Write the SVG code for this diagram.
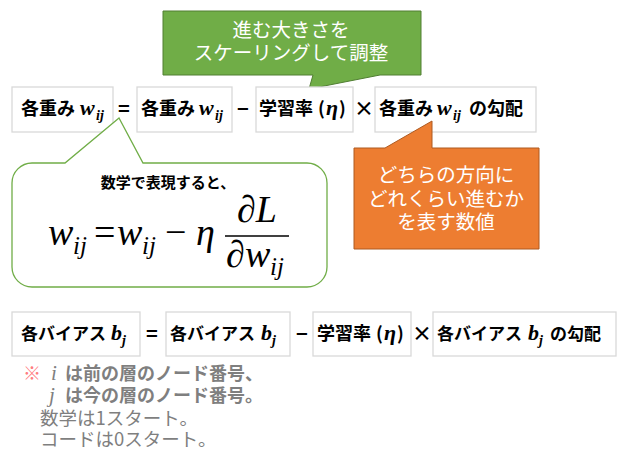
<svg xmlns="http://www.w3.org/2000/svg" width="624" height="460" viewBox="0 0 624 460">
<style>
.box{fill:#fff;stroke:#d9d9d9;stroke-width:1.3}
.b{font-family:"Noto Sans CJK JP","Noto Sans",sans-serif;font-weight:bold;font-size:18px;fill:#000}
.b17{font-size:17px}
.op{font-family:"Noto Sans CJK JP","Noto Sans",sans-serif;font-weight:bold;font-size:20px;fill:#000;text-anchor:middle}
.m{font-family:"Liberation Serif",serif;font-style:italic;font-weight:bold;font-size:22px;fill:#000}
.ms{font-family:"Liberation Serif",serif;font-style:italic;font-weight:bold;font-size:14px;fill:#000}
.w{font-family:"Noto Sans CJK JP","Noto Sans",sans-serif;font-size:19.5px;fill:#fff;text-anchor:middle}
.f{font-family:"Liberation Serif",serif;font-style:italic;font-size:38px;fill:#000}
.fs{font-family:"Liberation Serif",serif;font-style:italic;font-size:25px;fill:#000}
.fu{font-family:"Liberation Serif",serif;font-style:normal;font-size:38px;fill:#000}
.g{font-family:"Noto Sans CJK JP","Noto Sans",sans-serif;font-size:18.5px;font-weight:normal;fill:#7f7f7f}
.gb{font-family:"Noto Sans CJK JP","Noto Sans",sans-serif;font-size:18px;font-weight:bold;fill:#7f7f7f}
.gm{font-family:"Liberation Serif",serif;font-style:italic;font-size:21px;font-weight:normal;fill:#7f7f7f}
.pk{font-weight:normal;fill:#ff7c80}
</style>

<g id="callout-scale">
<path d="M163,11 H421 V75 H380 L309,89 L313,75 H163 Z" fill="#70ad47" stroke="#507e32" stroke-width="1"/>
<text class="w"><tspan x="291" y="37">進む大きさを</tspan><tspan x="291" y="60">スケーリングして調整</tspan></text>
</g>

<g id="w-lhs">
<rect class="box" x="12" y="87" width="101" height="45"/>
<text class="b" x="21" y="115">各重み<tspan class="m" x="80">w</tspan><tspan class="ms" x="96" y="120">ij</tspan></text>
</g>
<text class="op" x="124" y="116">=</text>
<g id="w-rhs">
<rect class="box" x="137" y="87" width="95" height="45"/>
<text class="b" x="141" y="115">各重み<tspan class="m" x="199">w</tspan><tspan class="ms" x="215" y="120">ij</tspan></text>
</g>
<text class="op" x="243" y="116">−</text>
<g id="w-lr">
<rect class="box" x="256" y="87" width="97" height="45"/>
<text class="b" x="259" y="115">学習率<tspan x="318">(</tspan><tspan class="m" x="326">η</tspan><tspan x="339">)</tspan></text>
</g>
<text class="op" x="364" y="116">×</text>
<g id="w-grad">
<rect class="box" x="375" y="87" width="161" height="45"/>
<text class="b" x="379" y="115">各重み<tspan class="m" x="437">w</tspan><tspan class="ms" x="453" y="120">ij</tspan><tspan x="469" y="115">の勾配</tspan></text>
</g>

<g id="callout-math">
<path d="M32,163 H65 L119,118 L143,163 H307 A20,20 0 0 1 327,183 V267 A20,20 0 0 1 307,287 H32 A20,20 0 0 1 12,267 V183 A20,20 0 0 1 32,163 Z" fill="#fff" stroke="#70ad47" stroke-width="1.3"/>
<text class="b" x="168" y="188" text-anchor="middle" style="font-size:15px">数学で表現すると、</text>
<text class="f" y="245"><tspan x="48">w</tspan><tspan class="fs" x="73" y="254">ij</tspan><tspan class="fu" x="94" y="245">=</tspan><tspan x="117">w</tspan><tspan class="fs" x="142" y="254">ij</tspan><tspan class="fu" x="165" y="245">−</tspan><tspan x="196">η</tspan></text>
<line x1="225" y1="236" x2="289" y2="236" stroke="#000" stroke-width="1.6"/>
<text class="f" x="237" y="222">∂L</text>
<text class="f" y="267"><tspan x="226">∂</tspan><tspan x="245">w</tspan><tspan class="fs" x="270" y="275">ij</tspan></text>
</g>

<g id="callout-grad">
<path d="M354,148 H385 L432,121 V148 H539 V249 H354 Z" fill="#ed7d31" stroke="#ae5a21" stroke-width="1"/>
<text class="w"><tspan x="446" y="182">どちらの方向に</tspan><tspan x="446" y="206">どれくらい進むか</tspan><tspan x="446" y="229">を表す数値</tspan></text>
</g>

<g id="b-lhs">
<rect class="box" x="12" y="312" width="128" height="44"/>
<text class="b b17" x="21" y="340">各バイアス<tspan class="m" x="111">b</tspan><tspan class="ms" x="122" y="345">j</tspan></text>
</g>
<text class="op" x="152" y="341">=</text>
<g id="b-rhs">
<rect class="box" x="166" y="312" width="124" height="44"/>
<text class="b b17" x="170" y="340">各バイアス<tspan class="m" x="261">b</tspan><tspan class="ms" x="272" y="345">j</tspan></text>
</g>
<text class="op" x="302" y="341">−</text>
<g id="b-lr">
<rect class="box" x="313" y="312" width="98" height="44"/>
<text class="b" x="317" y="340">学習率<tspan x="376">(</tspan><tspan class="m" x="384">η</tspan><tspan x="397">)</tspan></text>
</g>
<text class="op" x="422" y="341">×</text>
<g id="b-grad">
<rect class="box" x="433" y="312" width="183" height="44"/>
<text class="b b17" x="437" y="340">各バイアス<tspan class="m" x="528">b</tspan><tspan class="ms" x="539" y="345">j</tspan><tspan x="550" y="340">の勾配</tspan></text>
</g>

<g id="notes">
<text class="gb"><tspan class="pk" x="23" y="380">※</tspan><tspan class="gm" x="51" y="380">i</tspan><tspan x="65" y="380">は前の層のノード番号、</tspan><tspan class="gm" x="49" y="402">j</tspan><tspan x="65" y="402">は今の層のノード番号。</tspan><tspan class="g" x="40" y="425">数学は1スタート。</tspan><tspan class="g" x="40" y="446">コードは0スタート。</tspan></text>
</g>
</svg>
